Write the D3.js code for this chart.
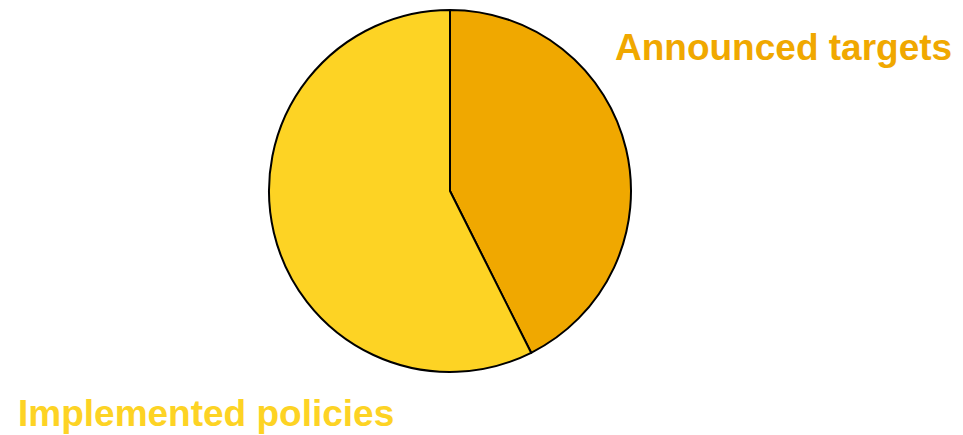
<!DOCTYPE html>
<html>
<head>
<meta charset="utf-8">
<script src="https://cdn.jsdelivr.net/npm/d3@7"></script>
<style>
  html, body { margin: 0; padding: 0; background: #fff; }
  svg { display: block; }
</style>
</head>
<body>
<svg id="chart" width="963" height="435"></svg>
<script>
// Data
const categories = ["Announced targets", "Implemented policies"];
const shares = [42.6, 57.4];
const colors = ["#F0A800", "#FDD324"];

const width = 963, height = 435;
const cx = 450, cy = 191, radius = 181;

const svg = d3.select("#chart");

const pie = d3.pie().sort(null).value(d => d.value);
const arc = d3.arc().innerRadius(0).outerRadius(radius);

const data = categories.map((c, i) => ({ name: c, value: shares[i], color: colors[i] }));

const chart = svg.append("g")
    .attr("transform", `translate(${cx}, ${cy})`);

chart.selectAll("path")
    .data(pie(data))
    .join("path")
        .attr("d", arc)
        .attr("fill", d => d.data.color)
        .attr("stroke", "#000")
        .attr("stroke-width", 2)
        .attr("stroke-linejoin", "round");

// Labels
const labelPos = [
    { x: 615, y: 60, anchor: "start" },
    { x: 18, y: 426, anchor: "start" }
];

svg.selectAll("text.label")
    .data(data)
    .join("text")
        .attr("class", "label")
        .attr("x", (d, i) => labelPos[i].x)
        .attr("y", (d, i) => labelPos[i].y)
        .attr("text-anchor", (d, i) => labelPos[i].anchor)
        .style("font-family", "'Liberation Sans', Arial, sans-serif")
        .style("font-weight", "bold")
        .style("font-size", "37px")
        .style("fill", d => d.color)
        .text(d => d.name);
</script>
</body>
</html>
